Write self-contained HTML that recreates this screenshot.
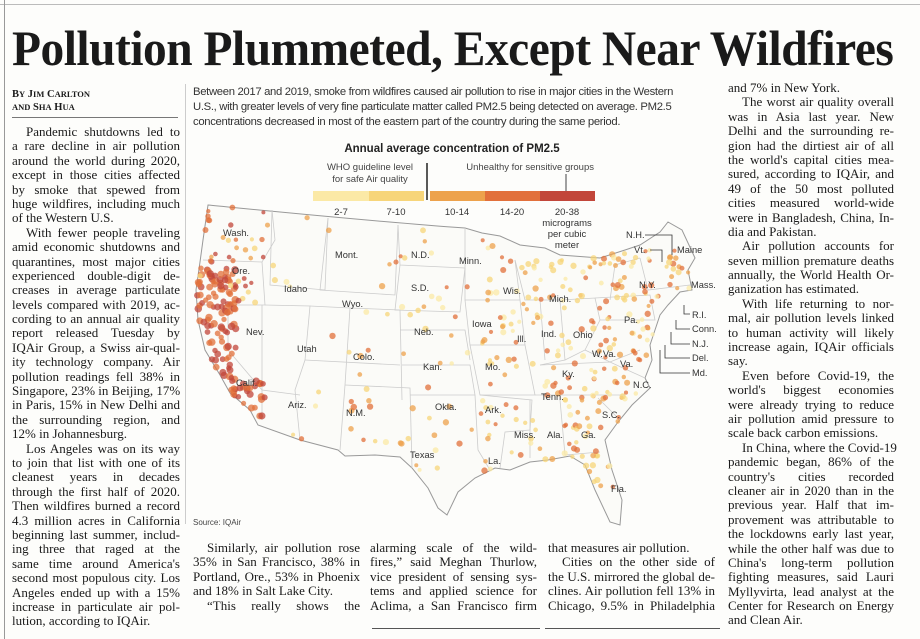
<!DOCTYPE html>
<html><head><meta charset="utf-8"><style>
html,body{margin:0;padding:0;background:#fdfdfb;}
body{width:920px;height:639px;position:relative;overflow:hidden;font-family:"Liberation Serif",serif;color:#1a1a1a;}
.abs{position:absolute;}
#head{left:12px;top:20px;white-space:nowrap;font-weight:bold;font-size:50px;line-height:56px;transform-origin:0 0;letter-spacing:-0.5px;}
.col{position:absolute;font-size:13px;}
.col div{height:14.4px;line-height:14.4px;text-align:justify;text-align-last:justify;white-space:nowrap;overflow:visible;}
.col div.e{text-align-last:left;}
.col div.i{text-indent:14px;}
.sans{font-family:"Liberation Sans",sans-serif;}
</style></head><body>
<div class="abs" style="left:0;top:0;width:920px;height:4px;border-bottom:1px solid #bbb"></div>
<div class="abs" style="left:4px;top:0;width:1px;height:639px;background:#999"></div>
<div id="head" class="abs">Pollution Plummeted, Except Near Wildfires</div>
<div class="abs" style="left:12px;top:88px;font-size:10.5px;font-weight:bold;line-height:13px;">B<span style="font-size:8.5px">Y</span> J<span style="font-size:8.5px">IM</span> C<span style="font-size:8.5px">ARLTON</span><br><span style="font-size:8.5px">AND</span> S<span style="font-size:8.5px">HA</span> H<span style="font-size:8.5px">UA</span></div>
<div class="abs" style="left:12px;top:117px;width:166px;height:1px;background:#777"></div>
<div class="abs" style="left:185px;top:84px;width:1px;height:440px;background:#ccc"></div>

<div class="col" style="left:12px;top:125px;width:168px;">
<div class="i">Pandemic shutdowns led to</div><div>a rare decline in air pollution</div><div>around the world during 2020,</div><div>except in those cities affected</div><div>by smoke that spewed from</div><div>huge wildfires, including much</div><div class="e">of the Western U.S.</div>
<div class="i">With fewer people traveling</div><div>amid economic shutdowns and</div><div>quarantines, most major cities</div><div>experienced double-digit de-</div><div>creases in average particulate</div><div>levels compared with 2019, ac-</div><div>cording to an annual air quality</div><div>report released Tuesday by</div><div>IQAir Group, a Swiss air-qual-</div><div>ity technology company. Air</div><div>pollution readings fell 38% in</div><div>Singapore, 23% in Beijing, 17%</div><div>in Paris, 15% in New Delhi and</div><div>the surrounding region, and</div><div class="e">12% in Johannesburg.</div>
<div class="i">Los Angeles was on its way</div><div>to join that list with one of its</div><div>cleanest years in decades</div><div>through the first half of 2020.</div><div>Then wildfires burned a record</div><div>4.3 million acres in California</div><div>beginning last summer, includ-</div><div>ing three that raged at the</div><div>same time around America's</div><div>second most populous city. Los</div><div>Angeles ended up with a 15%</div><div>increase in particulate air pol-</div><div class="e">lution, according to IQAir.</div>
</div>

<div class="col" style="left:728px;top:81px;width:166px;">
<div class="e">and 7% in New York.</div>
<div class="i">The worst air quality overall</div><div>was in Asia last year. New</div><div>Delhi and the surrounding re-</div><div>gion had the dirtiest air of all</div><div>the world's capital cities mea-</div><div>sured, according to IQAir, and</div><div>49 of the 50 most polluted</div><div>cities measured world-wide</div><div>were in Bangladesh, China, In-</div><div class="e">dia and Pakistan.</div>
<div class="i">Air pollution accounts for</div><div>seven million premature deaths</div><div>annually, the World Health Or-</div><div class="e">ganization has estimated.</div>
<div class="i">With life returning to nor-</div><div>mal, air pollution levels linked</div><div>to human activity will likely</div><div>increase again, IQAir officials</div><div class="e">say.</div>
<div class="i">Even before Covid-19, the</div><div>world's biggest economies</div><div>were already trying to reduce</div><div>air pollution amid pressure to</div><div class="e">scale back carbon emissions.</div>
<div class="i">In China, where the Covid-19</div><div>pandemic began, 86% of the</div><div>country's cities recorded</div><div>cleaner air in 2020 than in the</div><div>previous year. Half that im-</div><div>provement was attributable to</div><div>the lockdowns early last year,</div><div>while the other half was due to</div><div>China's long-term pollution</div><div>fighting measures, said Lauri</div><div>Myllyvirta, lead analyst at the</div><div>Center for Research on Energy</div><div class="e">and Clean Air.</div>
</div>

<div class="col" style="left:193px;top:541px;width:167px;">
<div class="i">Similarly, air pollution rose</div><div>35% in San Francisco, 38% in</div><div>Portland, Ore., 53% in Phoenix</div><div class="e">and 18% in Salt Lake City.</div><div class="i">“This really shows the</div>
</div>
<div class="col" style="left:370px;top:541px;width:167px;">
<div>alarming scale of the wild-</div><div>fires,” said Meghan Thurlow,</div><div>vice president of sensing sys-</div><div>tems and applied science for</div><div>Aclima, a San Francisco firm</div>
</div>
<div class="col" style="left:548px;top:541px;width:167px;">
<div class="e">that measures air pollution.</div><div class="i">Cities on the other side of</div><div>the U.S. mirrored the global de-</div><div>clines. Air pollution fell 13% in</div><div>Chicago, 9.5% in Philadelphia</div>
</div>
<div class="abs" style="left:372px;top:628px;width:168px;height:1px;background:#555"></div>
<div class="abs" style="left:545px;top:628px;width:175px;height:1px;background:#555"></div>

<div class="abs sans" style="left:193px;top:85px;white-space:nowrap;font-size:11.3px;line-height:15px;color:#333;letter-spacing:-0.33px;">Between 2017 and 2019, smoke from wildfires caused air pollution to rise in major cities in the Western<br>U.S., with greater levels of very fine particulate matter called PM2.5 being detected on average. PM2.5<br>concentrations decreased in most of the eastern part of the country during the same period.</div>

<svg class="abs" style="left:0;top:0" width="920" height="639" viewBox="0 0 920 639" font-family="Liberation Sans, sans-serif">
<text x="452" y="152" font-size="11.5" font-weight="bold" text-anchor="middle" fill="#222">Annual average concentration of PM2.5</text>
<g font-size="9.5" fill="#444">
<text x="370" y="170" text-anchor="middle">WHO guideline level</text>
<text x="370" y="182" text-anchor="middle">for safe Air quality</text>
<text x="594" y="170" text-anchor="end">Unhealthy for sensitive groups</text>
</g>
<line x1="427" y1="163" x2="427" y2="200" stroke="#222" stroke-width="1.5"/>
<line x1="566" y1="174" x2="566" y2="191" stroke="#444"/>
<rect x="313" y="191" width="56" height="10" fill="#fbe9a6"/>
<rect x="369" y="191" width="55" height="10" fill="#f7d57a"/>
<rect x="430" y="191" width="55" height="10" fill="#eda24c"/>
<rect x="485" y="191" width="55" height="10" fill="#e2703b"/>
<rect x="540" y="191" width="55" height="10" fill="#c2463a"/>
<g font-size="9.5" fill="#333" text-anchor="middle">
<text x="341" y="215">2-7</text><text x="396" y="215">7-10</text><text x="457" y="215">10-14</text><text x="512" y="215">14-20</text>
<text x="567" y="215">20-38</text><text x="567" y="226">micrograms</text><text x="567" y="237">per cubic</text><text x="567" y="248">meter</text>
</g>
<path id="us" d="M208,205 C280,212 380,222 465,228 L482,233 L500,236 L520,245 L545,248 L560,255 L600,258 L625,250 L640,245 L660,232 L668,222 L682,230 L695,258 L688,270 L692,290 L680,292 L668,305 L660,315 L655,330 L650,345 L652,360 L645,378 L650,388 L632,405 L618,422 L605,440 L612,470 L622,500 L620,525 L610,522 L595,490 L585,465 L570,456 L548,460 L530,462 L510,470 L495,468 L475,478 L458,492 L447,515 L438,508 L428,488 L412,468 L400,457 L375,455 L345,456 L338,450 L300,440 L258,425 L250,410 L230,393 L220,375 L205,350 L198,320 L196,290 L200,262 L203,240 Z" fill="#fbfbf8" stroke="#999" stroke-width="1"/>
<g id="lines" stroke="#ccc" stroke-width="0.8" fill="none">
<path d="M203,260 L262,262 L275,240 L272,210"/>
<path d="M200,305 L265,305 L262,262"/>
<path d="M228,303 L228,350 L262,390 L262,420"/>
<path d="M262,305 L262,390 L300,395"/>
<path d="M265,305 L310,306 L305,360 L295,390 L300,440"/>
<path d="M272,210 L270,285 L325,290 L328,218"/>
<path d="M310,306 L350,308 L345,385 L340,450"/>
<path d="M305,360 L400,365"/>
<path d="M345,385 L410,388 L412,468"/>
<path d="M328,218 L320,290 L395,295 L398,225"/>
<path d="M350,308 L400,310 L402,400"/>
<path d="M398,225 L400,265 L465,268"/>
<path d="M400,265 L395,310 L460,312 L465,268"/>
<path d="M400,330 L465,330 L470,360"/>
<path d="M402,365 L470,365 L475,395 L410,395"/>
<path d="M475,395 L478,450 L490,470"/>
<path d="M465,228 L465,300 L520,300 L515,260"/>
<path d="M465,300 L470,345 L525,345 L520,300"/>
<path d="M470,345 L480,395 L535,395 L525,345"/>
<path d="M480,395 L532,400 L530,430 L505,432 L500,468"/>
<path d="M515,260 L525,300 L540,300 L545,360"/>
<path d="M540,300 L560,300 L565,360 L540,365"/>
<path d="M560,300 L595,298 L600,320 L585,350 L565,360"/>
<path d="M595,298 L650,295 L655,320 L600,320"/>
<path d="M540,365 L610,362 L645,378"/>
<path d="M535,395 L625,395"/>
<path d="M530,400 L530,458 M560,400 L565,455 M565,455 L600,452"/>
<path d="M585,350 L610,362 L640,350"/>
<path d="M610,300 L615,265 L640,258 M640,258 L648,290 L690,285"/>
<path d="M598,398 L620,420"/>
</g>
<g id="dots"></g>
<g font-size="9.3" fill="#333">
<text x="223" y="236">Wash.</text><text x="232" y="274">Ore.</text><text x="284" y="292">Idaho</text><text x="335" y="258">Mont.</text>
<text x="246" y="335">Nev.</text><text x="297" y="352">Utah</text><text x="342" y="307">Wyo.</text><text x="353" y="360">Colo.</text>
<text x="236" y="386">Calif.</text><text x="288" y="408">Ariz.</text><text x="346" y="416">N.M.</text><text x="411" y="258">N.D.</text>
<text x="411" y="291">S.D.</text><text x="414" y="335">Neb.</text><text x="423" y="370">Kan.</text><text x="435" y="410">Okla.</text>
<text x="410" y="458">Texas</text><text x="459" y="264">Minn.</text><text x="472" y="327">Iowa</text><text x="485" y="370">Mo.</text>
<text x="485" y="413">Ark.</text><text x="488" y="464">La.</text><text x="503" y="294">Wis.</text><text x="517" y="342">Ill.</text>
<text x="549" y="302">Mich.</text><text x="541" y="337">Ind.</text><text x="573" y="338">Ohio</text><text x="562" y="377">Ky.</text>
<text x="541" y="400">Tenn.</text><text x="514" y="438">Miss.</text><text x="547" y="438">Ala.</text><text x="581" y="438">Ga.</text>
<text x="602" y="418">S.C.</text><text x="633" y="388">N.C.</text><text x="620" y="367">Va.</text><text x="592" y="357">W.Va.</text>
<text x="624" y="323">Pa.</text><text x="639" y="288">N.Y.</text><text x="611" y="492">Fla.</text>
<text x="677" y="253">Maine</text><text x="691" y="288">Mass.</text>
<text x="626" y="238">N.H.</text><text x="634" y="253">Vt.</text>
<text x="692" y="318">R.I.</text><text x="692" y="332">Conn.</text><text x="692" y="347">N.J.</text><text x="692" y="361">Del.</text><text x="692" y="376">Md.</text>
</g>
<g stroke="#333" fill="none" stroke-width="0.8">
<path d="M645,235 L672,235 L672,255"/><path d="M650,250 L662,250 L662,262"/>
<path d="M690,314 L684,314 L684,305"/><path d="M690,329 L676,329 L676,320"/>
<path d="M690,344 L671,344 L671,332"/><path d="M690,358 L665,358 L665,345"/>
<path d="M690,373 L660,373 L660,350"/>
</g>
<text x="193" y="525" font-size="8" fill="#444">Source: IQAir</text>
</svg>
<script>
(function(){
var h=document.getElementById('head');h.style.transform='scaleX('+(881/h.offsetWidth)+')';
var s=1234567;function r(){s=(s*16807)%2147483647;return s/2147483647;}
var cols=['#fbe9a6','#f7d57a','#eda24c','#e2703b','#c2463a'];
var g=document.getElementById('dots'),ns='http://www.w3.org/2000/svg';
var path=document.getElementById('us');
function add(x0,y0,w,hh,n,lo,hi,rad){for(var i=0;i<n;i++){var x=x0+r()*w,y=y0+r()*hh;
var p=path.ownerSVGElement.createSVGPoint();p.x=x;p.y=y;if(!path.isPointInFill(p))continue;
var c=document.createElementNS(ns,'circle');c.setAttribute('cx',x.toFixed(1));c.setAttribute('cy',y.toFixed(1));
c.setAttribute('r',(rad||2)+r()*1.2);c.setAttribute('fill',cols[lo+Math.floor(r()*(hi-lo+1))]);c.setAttribute('opacity',0.75);g.appendChild(c);}}
add(196,260,40,140,140,3,4,2.6);
add(220,380,45,40,50,3,4,2.5);
add(200,205,80,100,35,1,4);
add(270,210,140,240,30,0,3);
add(400,230,90,250,40,0,3);
add(480,240,130,230,150,0,3);
add(590,250,100,150,140,0,3);
add(560,380,70,130,35,1,3);
add(200,205,10,20,10,3,4);
})();
</script>
</body></html>
